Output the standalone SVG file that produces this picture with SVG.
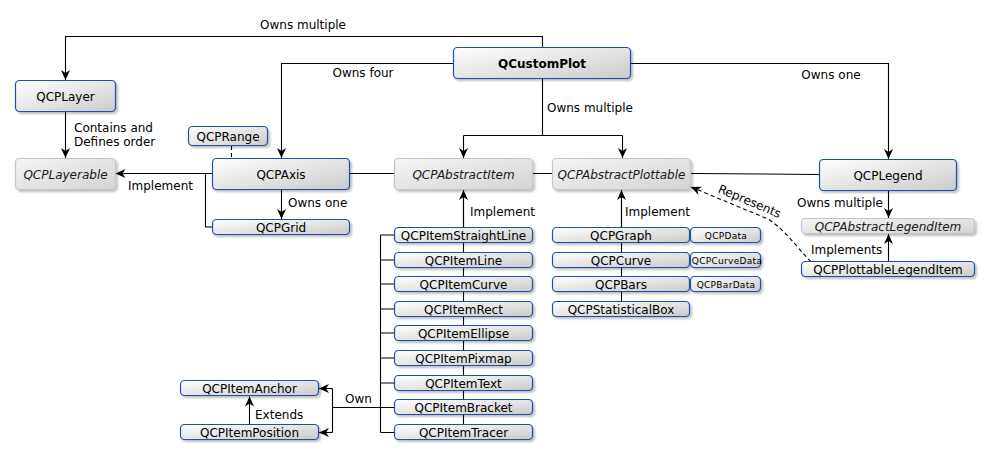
<svg xmlns="http://www.w3.org/2000/svg" width="990" height="457" viewBox="0 0 990 457">
<style>
text{font-family:"DejaVu Sans","Liberation Sans",sans-serif;font-size:12px;fill:#000}
.c{text-anchor:middle}
.b{font-weight:bold}
.i{font-style:italic;fill:#1a1a1a}
.s{font-size:9px;letter-spacing:0.3px}
.n rect{fill:url(#gc);stroke:#2050a6;stroke-width:1.2;filter:url(#sh)}
.a rect{fill:url(#ga);stroke:#c4c4c4;stroke-width:1.2;filter:url(#sh)}
.ln{fill:none;stroke:#000;stroke-width:1.1}
.ar{marker-end:url(#ah)}
.d{stroke-dasharray:4,3}
</style>
<defs>
<linearGradient id="gc" x1="0" y1="0" x2="1" y2="1">
<stop offset="0" stop-color="#ffffff"/><stop offset="1" stop-color="#cbcbcb"/>
</linearGradient>
<linearGradient id="ga" x1="0" y1="0" x2="1" y2="1">
<stop offset="0" stop-color="#f6f6f6"/><stop offset="1" stop-color="#d3d3d3"/>
</linearGradient>
<filter id="sh" x="-10%" y="-30%" width="125%" height="170%">
<feDropShadow dx="2" dy="2" stdDeviation="1.3" flood-color="#000" flood-opacity="0.25"/>
</filter>
<marker id="ah" viewBox="0 0 10 9" markerWidth="10" markerHeight="9" refX="10" refY="4.5" orient="auto" markerUnits="userSpaceOnUse">
<path d="M0,0 L10,4.5 L0,9 L3,4.5 z" fill="#000"/>
</marker>
</defs>

<g id="connectors">
<path class="ln ar" d="M542.5,47 V36.5 H65.5 V80"/>
<path class="ln ar" d="M453,63.5 H281.5 V158"/>
<path class="ln ar" d="M631,63.5 H888.5 V159"/>
<path class="ln" d="M542.5,79 V135.5 M463.5,135.5 H622.5"/>
<path class="ln ar" d="M463.5,135.5 V158"/>
<path class="ln ar" d="M622.5,135.5 V158"/>
<path class="ln ar" d="M65.5,112 V158"/>
<path class="ln ar" d="M212,173.5 H115.5"/>
<path class="ln" d="M212,173.5 H205.5 V227 H212.5"/>
<path class="ln d" d="M231.5,146 V158"/>
<path class="ln ar" d="M281.5,190 V219"/>
<path class="ln" d="M349.5,173.5 H394.5 M532.5,173.5 H552.5 M690.5,173.5 L819.5,174.5"/>
<path class="ln" d="M463.5,432 V200"/>
<path class="ln ar" d="M463.5,228 V190"/>
<path class="ln" d="M380.5,235 V432.5 M380.5,235 H394.5 M380.5,260 H394.5 M380.5,284 H394.5 M380.5,309 H394.5 M380.5,333 H394.5 M380.5,358 H394.5 M380.5,383 H394.5 M380.5,407.5 H394.5 M380.5,432.5 H394.5"/>
<path class="ln" d="M380.5,407.5 H332.5 M332.5,388.5 V432.5"/>
<path class="ln ar" d="M332.5,388.5 H319"/>
<path class="ln ar" d="M332.5,432.5 H319"/>
<path class="ln ar" d="M249.5,424 V396.5"/>
<path class="ln" d="M621.5,309 V200"/>
<path class="ln ar" d="M621.5,228 V190"/>
<path class="ln ar" d="M888.5,191 V218"/>
<path class="ln ar" d="M888.5,261.5 V234"/>
<path class="ln d ar" d="M811,262 C795,245 785,230 768,219 L691,187"/>
<text x="303" y="28.5" class="c">Owns multiple</text>
<text x="363" y="76.5" class="c">Owns four</text>
<text x="831" y="78.5" class="c">Owns one</text>
<text x="547" y="112">Owns multiple</text>
<text x="74" y="132">Contains and</text>
<text x="74" y="146">Defines order</text>
<text x="128" y="190">Implement</text>
<text x="288" y="207">Owns one</text>
<text x="470" y="216">Implement</text>
<text x="625" y="216">Implement</text>
<text x="797" y="207">Owns multiple</text>
<text x="811" y="254">Implements</text>
<text x="345" y="403">Own</text>
<text x="255" y="419">Extends</text>
<text x="748" y="205" class="c" transform="rotate(23 748 205)">Represents</text>
</g>

<g id="QCustomPlot" class="n"><rect x="453.5" y="47.5" width="177" height="31" rx="4"/><text x="542" y="67.5" class="c b">QCustomPlot</text></g>
<g id="QCPLayer" class="n"><rect x="15.5" y="80.5" width="100" height="31" rx="4"/><text x="65.5" y="100.5" class="c">QCPLayer</text></g>
<g id="QCPLayerable" class="a"><rect x="15.5" y="158.5" width="100" height="31" rx="4"/><text x="65.5" y="178.5" class="c i">QCPLayerable</text></g>
<g id="QCPRange" class="n"><rect x="188.5" y="126.5" width="79" height="19" rx="4"/><text x="228" y="140.5" class="c">QCPRange</text></g>
<g id="QCPAxis" class="n"><rect x="212.5" y="158.5" width="137" height="31" rx="4"/><text x="281" y="178.5" class="c">QCPAxis</text></g>
<g id="QCPGrid" class="n"><rect x="212.5" y="219.5" width="137" height="15" rx="4"/><text x="281" y="231.5" class="c">QCPGrid</text></g>
<g id="QCPAbstractItem" class="a"><rect x="394.5" y="158.5" width="138" height="31" rx="4"/><text x="463.5" y="178.5" class="c i">QCPAbstractItem</text></g>
<g id="QCPAbstractPlottable" class="a"><rect x="552.5" y="158.5" width="138" height="31" rx="4"/><text x="621.5" y="178.5" class="c i">QCPAbstractPlottable</text></g>
<g id="QCPLegend" class="n"><rect x="819.5" y="159.5" width="137" height="31" rx="4"/><text x="888" y="179.5" class="c">QCPLegend</text></g>
<g id="QCPAbstractLegendItem" class="a"><rect x="801.5" y="218.5" width="173" height="15" rx="4"/><text x="888" y="230.5" class="c i">QCPAbstractLegendItem</text></g>
<g id="QCPPlottableLegendItem" class="n"><rect x="801.5" y="261.5" width="173" height="15" rx="4"/><text x="888" y="273.5" class="c">QCPPlottableLegendItem</text></g>

<g id="QCPItemStraightLine" class="n"><rect x="394.5" y="227.5" width="138" height="15" rx="4"/><text x="463.5" y="239.5" class="c">QCPItemStraightLine</text></g>
<g id="QCPItemLine" class="n"><rect x="394.5" y="252.5" width="138" height="15" rx="4"/><text x="463.5" y="264.5" class="c">QCPItemLine</text></g>
<g id="QCPItemCurve" class="n"><rect x="394.5" y="276.5" width="138" height="15" rx="4"/><text x="463.5" y="288.5" class="c">QCPItemCurve</text></g>
<g id="QCPItemRect" class="n"><rect x="394.5" y="301.5" width="138" height="15" rx="4"/><text x="463.5" y="313.5" class="c">QCPItemRect</text></g>
<g id="QCPItemEllipse" class="n"><rect x="394.5" y="325.5" width="138" height="15" rx="4"/><text x="463.5" y="337.5" class="c">QCPItemEllipse</text></g>
<g id="QCPItemPixmap" class="n"><rect x="394.5" y="350.5" width="138" height="15" rx="4"/><text x="463.5" y="362.5" class="c">QCPItemPixmap</text></g>
<g id="QCPItemText" class="n"><rect x="394.5" y="375.5" width="138" height="15" rx="4"/><text x="463.5" y="387.5" class="c">QCPItemText</text></g>
<g id="QCPItemBracket" class="n"><rect x="394.5" y="399.5" width="138" height="15" rx="4"/><text x="463.5" y="411.5" class="c">QCPItemBracket</text></g>
<g id="QCPItemTracer" class="n"><rect x="394.5" y="424.5" width="138" height="15" rx="4"/><text x="463.5" y="436.5" class="c">QCPItemTracer</text></g>

<g id="QCPItemAnchor" class="n"><rect x="180.5" y="380.5" width="138" height="15" rx="4"/><text x="249.5" y="392.5" class="c">QCPItemAnchor</text></g>
<g id="QCPItemPosition" class="n"><rect x="180.5" y="424.5" width="138" height="15" rx="4"/><text x="249.5" y="436.5" class="c">QCPItemPosition</text></g>

<g id="QCPGraph" class="n"><rect x="552.5" y="227.5" width="137" height="15" rx="4"/><text x="621" y="239.5" class="c">QCPGraph</text></g>
<g id="QCPCurve" class="n"><rect x="552.5" y="252.5" width="137" height="15" rx="4"/><text x="621" y="264.5" class="c">QCPCurve</text></g>
<g id="QCPBars" class="n"><rect x="552.5" y="276.5" width="137" height="15" rx="4"/><text x="621" y="288.5" class="c">QCPBars</text></g>
<g id="QCPStatisticalBox" class="n"><rect x="552.5" y="301.5" width="137" height="15" rx="4"/><text x="621" y="313.5" class="c">QCPStatisticalBox</text></g>
<g id="QCPData" class="n"><rect x="690.5" y="227.5" width="70" height="15" rx="4"/><text x="726" y="238.5" class="c s">QCPData</text></g>
<g id="QCPCurveData" class="n"><rect x="690.5" y="252.5" width="70" height="15" rx="4"/><text x="727" y="263.5" class="c s">QCPCurveData</text></g>
<g id="QCPBarData" class="n"><rect x="690.5" y="276.5" width="70" height="15" rx="4"/><text x="726" y="287.5" class="c s">QCPBarData</text></g>
</svg>
